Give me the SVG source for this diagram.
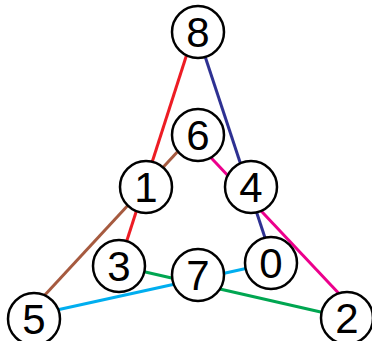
<svg xmlns="http://www.w3.org/2000/svg" width="372" height="341" viewBox="0 0 372 341">
<style>
.e{stroke-width:3;fill:none}
.n circle{fill:#fff;stroke:#000;stroke-width:2.5}
.n text{font-family:"Liberation Sans",Arial,sans-serif;font-size:42px;text-anchor:middle;fill:#000}
</style>
<rect width="372" height="341" fill="#fff"/>
<g id="edges">
<line class="e" x1="194" y1="32" x2="119" y2="265" stroke="#ED1C24"/>
<line class="e" x1="197" y1="32" x2="274" y2="265" stroke="#2E3192"/>
<line class="e" x1="193" y1="135" x2="31" y2="310" stroke="#A65A3F"/>
<line class="e" x1="200" y1="146" x2="345" y2="300" stroke="#EC008C"/>
<line class="e" x1="119" y1="266" x2="347" y2="318" stroke="#00A651"/>
<line class="e" x1="34" y1="315" x2="271" y2="263" stroke="#00AEEF"/>
</g>
<g id="n8" class="n"><circle cx="198" cy="32" r="26"/><text x="198" y="47">8</text></g>
<g id="n6" class="n"><circle cx="198" cy="135" r="26"/><text x="198" y="150">6</text></g>
<g id="n1" class="n"><circle cx="146" cy="187" r="26"/><text x="146" y="202">1</text></g>
<g id="n4" class="n"><circle cx="251" cy="187" r="26"/><text x="251" y="202">4</text></g>
<g id="n3" class="n"><circle cx="119" cy="266" r="26"/><text x="119" y="281">3</text></g>
<g id="n7" class="n"><circle cx="198" cy="275" r="26"/><text x="198" y="290">7</text></g>
<g id="n0" class="n"><circle cx="271" cy="263" r="26"/><text x="271" y="278">0</text></g>
<g id="n5" class="n"><circle cx="34" cy="319" r="26"/><text x="34" y="334">5</text></g>
<g id="n2" class="n"><circle cx="347" cy="318" r="26"/><text x="347" y="333">2</text></g>
</svg>
